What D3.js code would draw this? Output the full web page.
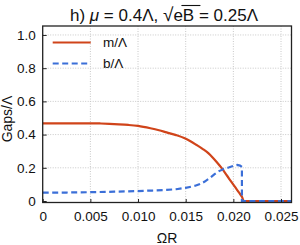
<!DOCTYPE html>
<html>
<head>
<meta charset="utf-8">
<script src="https://cdn.jsdelivr.net/npm/d3@7"></script>
<style>
  body { margin: 0; background: #fff; }
  svg { display: block; font-family: "Liberation Sans", Arial, sans-serif; }
</style>
</head>
<body>
<div id="chart"></div>
<script>
// values
const omegaM = [0, 0.0025, 0.005, 0.006, 0.007, 0.008, 0.009, 0.010, 0.0113, 0.0122, 0.013, 0.014, 0.0149, 0.0155, 0.0161, 0.0168, 0.0174, 0.0178, 0.0182, 0.0188, 0.0192, 0.0196, 0.0200, 0.0203, 0.0206, 0.0209, 0.0211, 0.022, 0.024, 0.0261];
const mGap   = [0.468, 0.468, 0.468, 0.467, 0.465, 0.462, 0.458, 0.452, 0.438, 0.426, 0.413, 0.397, 0.378, 0.360, 0.339, 0.313, 0.287, 0.264, 0.238, 0.196, 0.164, 0.131, 0.099, 0.075, 0.050, 0.025, 0, 0, 0, 0];

const omegaB = [0, 0.0025, 0.005, 0.0075, 0.010, 0.0115, 0.013, 0.014, 0.015, 0.016, 0.0165, 0.017, 0.0175, 0.018, 0.0185, 0.019, 0.0195, 0.020, 0.0204, 0.0207, 0.0209, 0.0209, 0.022, 0.024, 0.0261];
const bGap   = [0.050, 0.051, 0.053, 0.056, 0.060, 0.063, 0.067, 0.071, 0.079, 0.092, 0.102, 0.117, 0.137, 0.160, 0.180, 0.193, 0.202, 0.212, 0.217, 0.213, 0.205, 0, 0, 0, 0];

const xTicks = [0, 0.005, 0.010, 0.015, 0.020, 0.025];
const xTickLabels = ["0", "0.005", "0.010", "0.015", "0.020", "0.025"];
const yTicks = [0, 0.2, 0.4, 0.6, 0.8, 1.0];
const yTickLabels = ["0", "0.2", "0.4", "0.6", "0.8", "1.0"];

const width = 300, height = 245;
const plot = {left: 42.7, right: 291.5, top: 26, bottom: 202.5};
const redColor = '#d0441a', blueColor = '#3b6fd8';

const svg = d3.select('#chart').append('svg')
    .attr('width', width).attr('height', height);

const x = d3.scaleLinear().domain([0, 0.0261]).range([plot.left, plot.right]);
const y = d3.scaleLinear().domain([-0.009, 1.054]).range([plot.bottom, plot.top]);

// grid
const grid = svg.append('g').attr('stroke', '#c8c8c8').attr('stroke-width', 1).attr('stroke-dasharray', '1,1.5');
grid.selectAll('.gx').data(xTicks.slice(1)).join('line')
    .attr('x1', d => x(d)).attr('x2', d => x(d))
    .attr('y1', plot.top).attr('y2', plot.bottom);
grid.selectAll('.gy').data(yTicks.slice(1)).join('line')
    .attr('x1', plot.left).attr('x2', plot.right)
    .attr('y1', d => y(d)).attr('y2', d => y(d));

// curves
const lineM = d3.line().x((d, i) => x(omegaM[i])).y(d => y(d)).curve(d3.curveMonotoneX);
const lineB = d3.line().x((d, i) => x(omegaB[i])).y(d => y(d));

svg.append('path').attr('d', lineM(mGap))
    .attr('fill', 'none').attr('stroke', redColor).attr('stroke-width', 2.2);
svg.append('path').attr('d', lineB(bGap))
    .attr('fill', 'none').attr('stroke', blueColor).attr('stroke-width', 2.2)
    .attr('stroke-dasharray', '6,3.5');

// frame
svg.append('rect')
    .attr('x', plot.left).attr('y', plot.top)
    .attr('width', plot.right - plot.left).attr('height', plot.bottom - plot.top)
    .attr('fill', 'none').attr('stroke', '#222').attr('stroke-width', 1.3);

// axes with inward ticks
const xAxis = d3.axisBottom(x).tickValues(xTicks).tickSizeInner(-3.5).tickSizeOuter(0)
    .tickFormat((d, i) => xTickLabels[i]).tickPadding(9);
const yAxis = d3.axisLeft(y).tickValues(yTicks).tickSizeInner(-4).tickSizeOuter(0)
    .tickFormat((d, i) => yTickLabels[i]).tickPadding(7);

const gx = svg.append('g').attr('transform', `translate(0,${plot.bottom})`).call(xAxis);
const gy = svg.append('g').attr('transform', `translate(${plot.left},0)`).call(yAxis);
[gx, gy].forEach(g => {
    g.select('.domain').remove();
    g.selectAll('line').attr('stroke', '#222');
    g.selectAll('text').attr('font-size', 13.5).attr('fill', '#111')
        .attr('font-family', '"Liberation Sans", Arial, sans-serif');
});

// axis labels
svg.append('text').attr('x', (plot.left + plot.right) / 2).attr('y', 243)
    .attr('text-anchor', 'middle').attr('font-size', 14).attr('fill', '#111').text('ΩR');
svg.append('text').attr('transform', 'translate(12,119) rotate(-90)')
    .attr('text-anchor', 'middle').attr('font-size', 14).attr('fill', '#111').text('Gaps/Λ');

// title
const title = svg.append('text').attr('x', 164).attr('y', 21)
    .attr('text-anchor', 'middle').attr('font-size', 17).attr('fill', '#111');
title.append('tspan').text('h) ');
title.append('tspan').attr('font-style', 'italic').text('μ');
title.append('tspan').text(' = 0.4Λ,  ');
title.append('tspan').attr('font-size', 19).text('√');
title.append('tspan').text('eB');
title.append('tspan').text('  = 0.25Λ');

// overline of the square root
const tnode = title.node();
const full = tnode.textContent;
const sIdx = full.indexOf('√');
const eIdx = full.indexOf('eB') + 1;
const x0 = tnode.getStartPositionOfChar(sIdx).x + 8;
const x1 = tnode.getEndPositionOfChar(eIdx).x + 1.5;
svg.append('line').attr('x1', x0).attr('x2', x1).attr('y1', 5.5).attr('y2', 5.5)
    .attr('stroke', '#111').attr('stroke-width', 1.1);

// legend
const legend = [
    {label: 'm/Λ', color: redColor, dash: null},
    {label: 'b/Λ', color: blueColor, dash: '6,3.5'}
];
const lg = svg.append('g');
legend.forEach((d, i) => {
    const ly = i === 0 ? 42.5 : 63.5;
    lg.append('line').attr('x1', 52.7).attr('x2', 90.7).attr('y1', ly).attr('y2', ly)
        .attr('stroke', d.color).attr('stroke-width', 2.2)
        .attr('stroke-dasharray', d.dash);
    lg.append('text').attr('x', 103).attr('y', ly + 4.5)
        .attr('font-size', 13.5).attr('fill', '#111').text(d.label);
});
</script>
</body>
</html>
